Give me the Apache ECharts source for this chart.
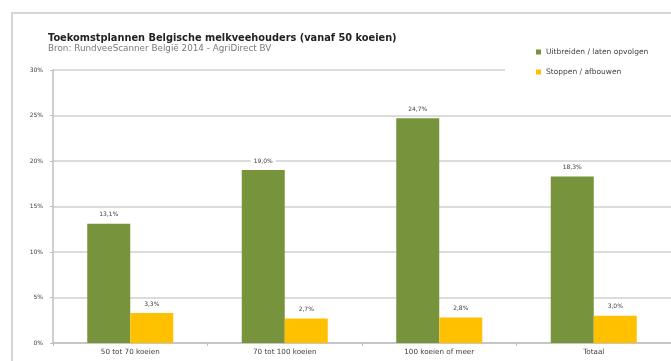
<!DOCTYPE html>
<html><head><meta charset="utf-8">
<style>html,body{margin:0;padding:0;background:#fff}#c{width:671px;height:361px}</style>
<script src="https://cdn.jsdelivr.net/npm/echarts@6/dist/echarts.min.js"></script>
</head><body><div id="c"></div>
<script>
const categories = ['50 tot 70 koeien', '70 tot 100 koeien', '100 koeien of meer', 'Totaal'];
const seriesNames = ['Uitbreiden / laten opvolgen', 'Stoppen / afbouwen'];
const uitbreiden = [13.1, 19.0, 24.7, 18.3];
const stoppen = [3.3, 2.7, 2.8, 3.0];
const yTicks = [0, 5, 10, 15, 20, 25, 30];

const chart = echarts.init(document.getElementById('c'));
const FF = 'DejaVu Sans';
const fmt = v => v.toFixed(1).replace('.', ',') + '%';
const lbl = {
  show: true, position: 'top', distance: 5, fontSize: 6, color: '#404040',
  fontFamily: FF, backgroundColor: '#fff', padding: [1, 3],
  formatter: p => fmt(p.value)
};
chart.setOption({
  animation: false,
  backgroundColor: '#fff',
  graphic: [
    { type: 'rect', shape: { x: 12, y: 13, width: 700, height: 400 },
      style: { fill: 'none', stroke: '#d6d6d6', lineWidth: 2 }, z: -1 },
    { type: 'rect', shape: { x: 505, y: 40, width: 166, height: 38 },
      style: { fill: '#fff' }, z: 10 }
  ],
  title: {
    text: 'Toekomstplannen Belgische melkveehouders (vanaf 50 koeien)',
    subtext: 'Bron: RundveeScanner België 2014 - AgriDirect BV',
    left: 43, top: 28, itemGap: 1,
    textStyle: { fontSize: 9.8, fontWeight: 'bold', color: '#222', fontFamily: FF },
    subtextStyle: { fontSize: 8.8, color: '#7a7a7a', fontFamily: FF }
  },
  legend: {
    orient: 'vertical', left: 534, top: 46, itemWidth: 5, itemHeight: 5, itemGap: 12,
    z: 20, padding: [2, 4, 2, 2],
    textStyle: { fontSize: 7.5, color: '#404040', fontFamily: FF },
    icon: 'rect', data: seriesNames
  },
  grid: { left: 53, right: 0, top: 70, bottom: 18 },
  xAxis: {
    type: 'category', data: categories,
    axisLine: { lineStyle: { color: '#bfbfbf', width: 1.5 } },
    axisTick: { show: true, length: 3, lineStyle: { color: '#bfbfbf' } },
    axisLabel: { fontSize: 7.2, color: '#404040', margin: 6, fontFamily: FF }
  },
  yAxis: {
    type: 'value', min: 0, max: 30, interval: 5,
    axisLine: { show: true, lineStyle: { color: '#bfbfbf', width: 1.5 } },
    axisTick: { show: true, length: 3, lineStyle: { color: '#bfbfbf' } },
    splitLine: { lineStyle: { color: '#d0d0d0', width: 1.5 } },
    axisLabel: { fontSize: 6, color: '#404040', margin: 10, fontFamily: FF,
      formatter: v => yTicks.includes(v) ? v + '%' : '' }
  },
  series: [
    { name: seriesNames[0], type: 'bar', data: uitbreiden, barWidth: 43, barGap: '0%',
      itemStyle: { color: '#77933c' }, label: lbl },
    { name: seriesNames[1], type: 'bar', data: stoppen, barWidth: 43, barGap: '0%',
      itemStyle: { color: '#ffc000' }, label: lbl }
  ]
});
</script></body></html>
